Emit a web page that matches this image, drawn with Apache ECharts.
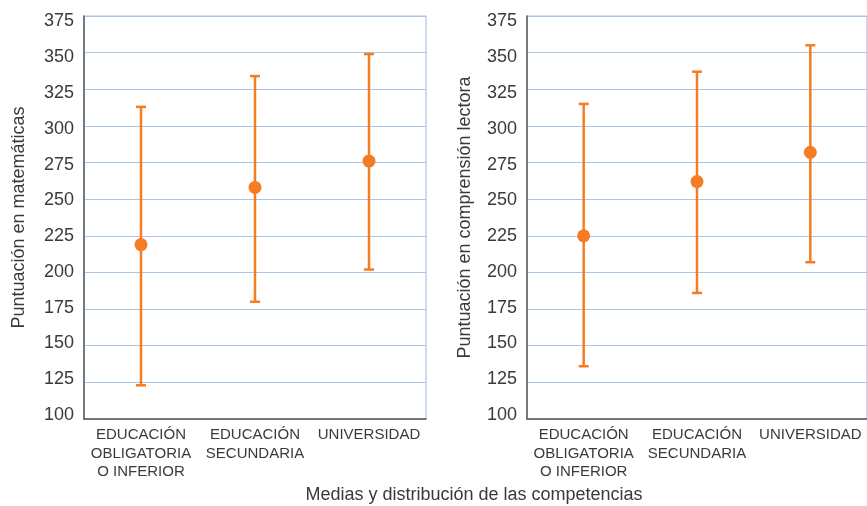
<!DOCTYPE html>
<html>
<head>
<meta charset="utf-8">
<script src="https://cdn.jsdelivr.net/npm/echarts@6/dist/echarts.min.js"></script>
<style>html,body{margin:0;padding:0;background:#fff}#c{width:867px;height:506px}</style>
</head>
<body>
<div id="c"></div>
<script>
const categories = ['EDUCACIÓN\nOBLIGATORIA\nO INFERIOR', 'EDUCACIÓN\nSECUNDARIA', 'UNIVERSIDAD'];
const yTicks = { min: 100, max: 375, interval: 25 };
const mathMean = [219, 258, 276];
const mathLow = [123, 180, 202];
const mathHigh = [313, 334, 349];
const readMean = [225, 262, 282];
const readLow = [136, 186, 207];
const readHigh = [315, 337, 355];
const yNames = ['Puntuación en matemáticas', 'Puntuación en comprensión lectora'];
const xTitle = 'Medias y distribución de las competencias';

const ORANGE = '#f47c22';
const GRID = '#a9c6e6';
const AXIS = '#5a5a5a';
const TEXT = '#3a3a3a';
const FONT = 'Liberation Sans';

function errBars(low, high) {
  return low.map((l, i) => [i, l, high[i]]);
}
function renderErr(params, api) {
  const x = api.value(0);
  const lo = api.coord([x, api.value(1)]);
  const hi = api.coord([x, api.value(2)]);
  const cw = 5;
  const st = { stroke: ORANGE, lineWidth: 2.5 };
  return { type: 'group', children: [
    { type: 'line', shape: { x1: lo[0], y1: lo[1], x2: hi[0], y2: hi[1] }, style: st },
    { type: 'line', shape: { x1: lo[0] - cw, y1: lo[1], x2: lo[0] + cw, y2: lo[1] }, style: st },
    { type: 'line', shape: { x1: hi[0] - cw, y1: hi[1], x2: hi[0] + cw, y2: hi[1] }, style: st }
  ]};
}
function xAxis(gi) {
  return {
    type: 'category', gridIndex: gi, data: categories, boundaryGap: true,
    axisLine: { lineStyle: { color: AXIS, width: 1.5 } },
    axisTick: { inside: true, length: 9, lineStyle: { color: AXIS, width: 1.2 } },
    axisLabel: { color: TEXT, fontFamily: FONT, fontSize: 15, lineHeight: 18.5, margin: 7, interval: 0 },
    splitLine: { show: false }
  };
}
function hiddenX(gi) {
  return { type: 'category', gridIndex: gi, data: categories, show: false };
}
function yAxis(gi, name, gap) {
  return {
    type: 'value', gridIndex: gi, min: yTicks.min, max: yTicks.max, interval: yTicks.interval,
    name: name, nameLocation: 'middle', nameGap: gap,
    nameTextStyle: { color: TEXT, fontFamily: FONT, fontSize: 18 },
    axisLine: { show: true, lineStyle: { color: AXIS, width: 1.5 } },
    axisTick: { show: false },
    axisLabel: { show: false },
    splitLine: { lineStyle: { color: GRID, width: 1.2 } }
  };
}
// tick-label-only axis (labels in the source sit slightly inside the gridline span)
function labelAxis(gi) {
  return {
    type: 'value', gridIndex: gi, min: yTicks.min, max: yTicks.max, interval: yTicks.interval,
    axisLine: { show: false }, axisTick: { show: false }, splitLine: { show: false },
    axisLabel: { color: TEXT, fontFamily: FONT, fontSize: 18, margin: 10 }
  };
}
const chart = echarts.init(document.getElementById('c'), null, { renderer: 'canvas' });
chart.setOption({
  animation: false,
  grid: [
    { left: 84, top: 16, width: 342, height: 403, show: true, borderColor: GRID, borderWidth: 1.2, backgroundColor: 'transparent' },
    { left: 527, top: 16, width: 342, height: 403, show: true, borderColor: GRID, borderWidth: 1.2, backgroundColor: 'transparent' },
    { left: 84, top: 21.5, width: 342, height: 393.5, show: false },
    { left: 527, top: 21.5, width: 342, height: 393.5, show: false }
  ],
  xAxis: [xAxis(0), xAxis(1), hiddenX(2), hiddenX(3)],
  yAxis: [yAxis(0, yNames[0], 56), yAxis(1, yNames[1], 53), labelAxis(2), labelAxis(3)],
  graphic: [{
    type: 'text', x: 474, y: 495,
    style: { text: xTitle, fill: TEXT, font: '18px "' + FONT + '"', align: 'center', verticalAlign: 'middle' }
  }],
  series: [
    { type: 'custom', xAxisIndex: 0, yAxisIndex: 0, data: errBars(mathLow, mathHigh), renderItem: renderErr, encode: { x: 0, y: [1, 2] }, z: 2 },
    { type: 'scatter', xAxisIndex: 0, yAxisIndex: 0, data: mathMean, symbolSize: 13, itemStyle: { color: ORANGE, opacity: 1 }, z: 3 },
    { type: 'custom', xAxisIndex: 1, yAxisIndex: 1, data: errBars(readLow, readHigh), renderItem: renderErr, encode: { x: 0, y: [1, 2] }, z: 2 },
    { type: 'scatter', xAxisIndex: 1, yAxisIndex: 1, data: readMean, symbolSize: 13, itemStyle: { color: ORANGE, opacity: 1 }, z: 3 }
  ]
});
</script>
</body>
</html>
